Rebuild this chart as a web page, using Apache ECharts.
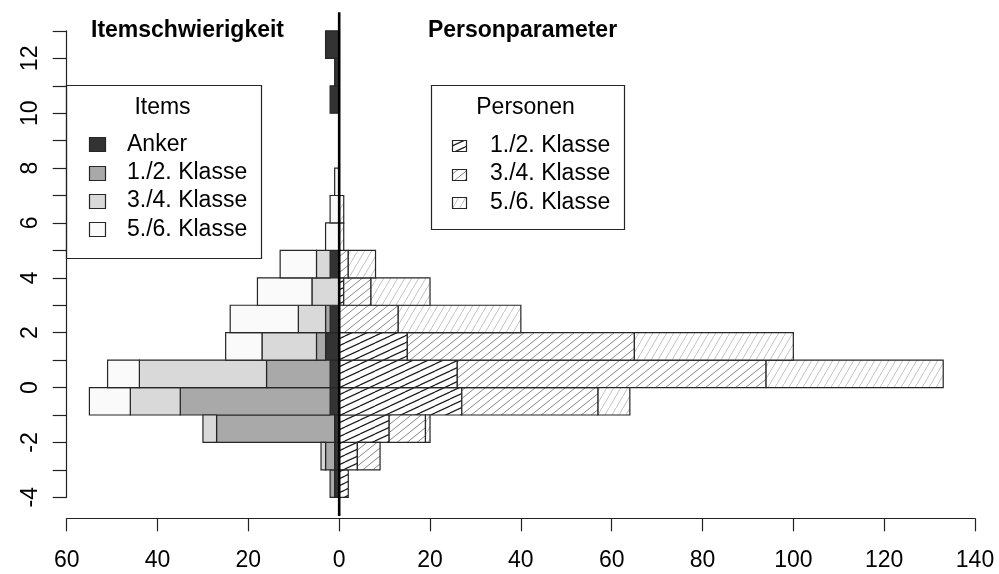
<!DOCTYPE html>
<html>
<head>
<meta charset="utf-8">
<script src="https://cdn.jsdelivr.net/npm/echarts@6/dist/echarts.min.js"></script>
<style>
  html, body { margin: 0; padding: 0; background: #fff; }
  #chart { width: 999px; height: 574px; }
</style>
</head>
<body>
<div id="chart"></div>
<script>
// Lower edge of every one-logit bin
const binStarts = [-4, -3, -2, -1, 0, 1, 2, 3, 4, 5, 6, 7, 8, 9, 10, 11, 12];
const binWidth = 1;

// Items per bin, drawn to the left of zero
const itemGroups = ['Anker', '1./2. Klasse', '3./4. Klasse', '5./6. Klasse'];
const itemsAnker = [1, 1, 1, 2, 2, 3, 2, 0, 2, 0, 0, 0, 0, 0, 2, 1, 3];
const items12    = [1, 2, 26, 33, 14, 2, 1, 0, 0, 0, 0, 0, 0, 0, 0, 0, 0];
const items34    = [0, 1, 3, 11, 28, 12, 6, 6, 3, 0, 0, 0, 0, 0, 0, 0, 0];
const items56    = [0, 0, 0, 9, 7, 8, 15, 12, 8, 3, 2, 1, 0, 0, 0, 0, 0];

// Persons per bin, drawn to the right of zero
const personGroups = ['1./2. Klasse', '3./4. Klasse', '5./6. Klasse'];
const persons12 = [2, 4, 11, 27, 26, 15, 0, 1, 0, 0, 0, 0, 0, 0, 0, 0, 0];
const persons34 = [0, 5, 8, 30, 68, 50, 13, 6, 2, 0, 0, 0, 0, 0, 0, 0, 0];
const persons56 = [0, 0, 1, 7, 39, 35, 27, 13, 6, 1, 1, 0, 0, 0, 0, 0, 0];

// Axis ticks
const xTickValues = [-60, -40, -20, 0, 20, 40, 60, 80, 100, 120, 140];
const yTickValues = [-4, -3, -2, -1, 0, 1, 2, 3, 4, 5, 6, 7, 8, 9, 10, 11, 12, 13];
const yLabelValues = [-4, -2, 0, 2, 4, 6, 8, 10, 12];

// Panel headings
const leftHeading = 'Itemschwierigkeit';
const rightHeading = 'Personparameter';
const itemLegendTitle = 'Items';
const personLegendTitle = 'Personen';

const FONT = '"Liberation Sans", Arial, Helvetica, sans-serif';
const EDGE = '#262626';

// Solid greys for the item groups
const itemFills = ['#333333', '#a9a9a9', '#d9d9d9', '#fafafa'];

// Diagonal line hatching, built as a repeating canvas tile
function hatch(w, h, color, lw) {
  const c = document.createElement('canvas');
  c.width = w; c.height = h;
  const g = c.getContext('2d');
  g.fillStyle = '#ffffff';
  g.fillRect(0, 0, w, h);
  g.strokeStyle = color;
  g.lineWidth = lw;
  for (let m = -1; m <= 1; m++) {
    g.beginPath();
    g.moveTo(0, h + m * h);
    g.lineTo(w, m * h);
    g.stroke();
  }
  return { image: c, repeat: 'repeat' };
}
const personFills = [
  hatch(15, 7, '#1a1a1a', 1.2),
  hatch(10, 8, '#888888', 1),
  hatch(7, 12, '#c2c2c2', 1)
];

// Stack the groups outward from zero; sign -1 goes left, +1 goes right
function stackSegments(groups, sign) {
  const cum = binStarts.map(() => 0);
  return groups.map(vals => {
    const seg = [];
    vals.forEach((v, i) => {
      if (v > 0) seg.push([binStarts[i], sign * cum[i], sign * (cum[i] + v), v]);
      cum[i] += v;
    });
    return seg;
  });
}
const itemSegs = stackSegments([itemsAnker, items12, items34, items56], -1);
const personSegs = stackSegments([persons12, persons34, persons56], 1);

function barRenderer(fill) {
  return function (params, api) {
    const y0 = api.value(0);
    const a = api.value(1);
    const b = api.value(2);
    const p1 = api.coord([a, y0]);
    const p2 = api.coord([b, y0 + binWidth]);
    return {
      type: 'rect',
      shape: {
        x: Math.min(p1[0], p2[0]),
        y: Math.min(p1[1], p2[1]),
        width: Math.abs(p2[0] - p1[0]),
        height: Math.abs(p2[1] - p1[1])
      },
      style: { fill: fill, stroke: EDGE, lineWidth: 1.2 }
    };
  };
}

const yMin = yTickValues[0];
const yMax = yTickValues[yTickValues.length - 1];
const yPad = (yMax - yMin) * 0.04;

const series = [];
itemSegs.forEach((seg, k) => {
  series.push({
    type: 'custom', name: 'Items ' + itemGroups[k],
    renderItem: barRenderer(itemFills[k]),
    encode: { x: [1, 2], y: 0 },
    data: seg, z: 2, silent: true
  });
});
personSegs.forEach((seg, k) => {
  series.push({
    type: 'custom', name: 'Personen ' + personGroups[k],
    renderItem: barRenderer(personFills[k]),
    encode: { x: [1, 2], y: 0 },
    data: seg, z: 2, silent: true
  });
});
// Zero line running the full height of the plot region
series.push({
  type: 'custom', name: 'zero', clip: false, silent: true, z: 5,
  data: [[0]],
  encode: { x: 0 },
  renderItem: function (params, api) {
    const top = api.coord([api.value(0), yMax + yPad]);
    const bottom = api.coord([api.value(0), yMin - yPad]);
    return {
      type: 'line',
      shape: { x1: top[0], y1: top[1], x2: bottom[0], y2: bottom[1] },
      style: { stroke: '#000', lineWidth: 2.6 }
    };
  }
});

// Legends and headings
function legendBlock(x, y, w, h, title, titleX, labels, fills, sw, sh, swX, textX, firstY, step) {
  const els = [
    { type: 'rect', shape: { x: x, y: y, width: w, height: h },
      style: { fill: '#fff', stroke: EDGE, lineWidth: 1.2 } },
    { type: 'text', x: titleX, y: 108,
      style: { text: title, font: '23px ' + FONT, fill: '#000',
               textAlign: 'center', textVerticalAlign: 'middle', align: 'center', verticalAlign: 'middle' } }
  ];
  labels.forEach((lab, i) => {
    const cy = firstY + i * step;
    els.push({ type: 'rect', shape: { x: swX, y: Math.round(cy - sh / 2) + 0.5, width: sw, height: sh },
      style: { fill: fills[i], stroke: EDGE, lineWidth: 1.2 } });
    els.push({ type: 'text', x: textX, y: cy,
      style: { text: lab, font: '23px ' + FONT, fill: '#000',
               textAlign: 'left', textVerticalAlign: 'middle', align: 'left', verticalAlign: 'middle' } });
  });
  return els;
}

const graphic = [].concat(
  [
    { type: 'text', x: 187.5, y: 31,
      style: { text: leftHeading, font: 'bold 23px ' + FONT, fill: '#000',
               textAlign: 'center', textVerticalAlign: 'middle', align: 'center', verticalAlign: 'middle' } },
    { type: 'text', x: 522.5, y: 31,
      style: { text: rightHeading, font: 'bold 23px ' + FONT, fill: '#000',
               textAlign: 'center', textVerticalAlign: 'middle', align: 'center', verticalAlign: 'middle' } }
  ],
  legendBlock(66.5, 85.5, 195, 173, itemLegendTitle, 162.5, itemGroups, itemFills, 16, 14, 89.5, 127, 144.2, 28.4),
  legendBlock(431.5, 85.5, 193, 144, personLegendTitle, 525.5, personGroups, personFills, 14, 11, 452.5, 490, 145.8, 28.2)
);

const chart = echarts.init(document.getElementById('chart'), null, { renderer: 'canvas' });
chart.setOption({
  animation: false,
  backgroundColor: '#ffffff',
  grid: { left: 66.7, right: 24, top: 30.9, bottom: 76.7 },
  xAxis: {
    type: 'value',
    min: xTickValues[0],
    max: xTickValues[xTickValues.length - 1],
    interval: xTickValues[1] - xTickValues[0],
    offset: 21,
    splitLine: { show: false },
    axisLine: { show: true, onZero: false, lineStyle: { color: '#222', width: 1.2 } },
    axisTick: { show: true, length: 13, lineStyle: { color: '#222', width: 1.2 } },
    axisLabel: {
      margin: 31, color: '#000', fontSize: 23, fontFamily: FONT,
      formatter: v => String(Math.abs(v))
    }
  },
  yAxis: {
    type: 'value',
    min: yMin,
    max: yMax,
    interval: yTickValues[1] - yTickValues[0],
    splitLine: { show: false },
    axisLine: { show: true, onZero: false, lineStyle: { color: '#222', width: 1.2 } },
    axisTick: { show: true, length: 14, lineStyle: { color: '#222', width: 1.2 } },
    axisLabel: {
      rotate: 90, margin: 25, color: '#000', fontSize: 23, fontFamily: FONT,
      formatter: v => (yLabelValues.indexOf(v) >= 0 ? String(v) : '')
    }
  },
  series: series,
  graphic: graphic
});
</script>
</body>
</html>
